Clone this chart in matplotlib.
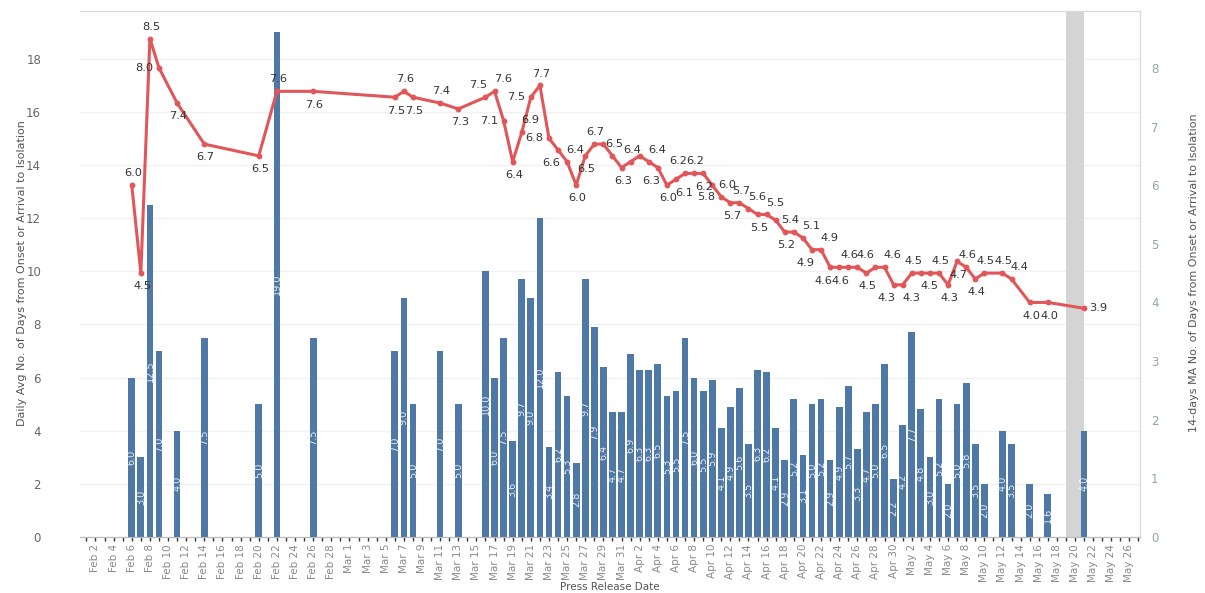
import matplotlib
matplotlib.use("Agg")
import matplotlib.pyplot as plt
import matplotlib.dates as mdates
from matplotlib.ticker import FixedLocator, FuncFormatter
import pandas as pd

# Press release dates (2020) that have data
days = ["02-06", "02-07", "02-08", "02-09", "02-11", "02-14", "02-20", "02-22", "02-26",
        "03-06", "03-07", "03-08", "03-11", "03-13",
        "03-16", "03-17", "03-18", "03-19", "03-20", "03-21", "03-22", "03-23",
        "03-24", "03-25", "03-26", "03-27", "03-28", "03-29", "03-30", "03-31",
        "04-01", "04-02", "04-03", "04-04", "04-05", "04-06", "04-07", "04-08",
        "04-09", "04-10", "04-11", "04-12", "04-13", "04-14", "04-15", "04-16",
        "04-17", "04-18", "04-19", "04-20", "04-21", "04-22", "04-23", "04-24",
        "04-25", "04-26", "04-27", "04-28", "04-29", "04-30",
        "05-01", "05-02", "05-03", "05-04", "05-05", "05-06", "05-07", "05-08",
        "05-09", "05-10", "05-12", "05-13", "05-15", "05-17", "05-21"]

# Daily average no. of days from onset/arrival to isolation (bars)
daily_avg = [6.0, 3.0, 12.5, 7.0, 4.0, 7.5, 5.0, 19.0, 7.5,
             7.0, 9.0, 5.0, 7.0, 5.0,
             10.0, 6.0, 7.5, 3.6, 9.7, 9.0, 12.0, 3.4,
             6.2, 5.3, 2.8, 9.7, 7.9, 6.4, 4.7, 4.7,
             6.9, 6.3, 6.3, 6.5, 5.3, 5.5, 7.5, 6.0,
             5.5, 5.9, 4.1, 4.9, 5.6, 3.5, 6.3, 6.2,
             4.1, 2.9, 5.2, 3.1, 5.0, 5.2, 2.9, 4.9,
             5.7, 3.3, 4.7, 5.0, 6.5, 2.2,
             4.2, 7.7, 4.8, 3.0, 5.2, 2.0, 5.0, 5.8,
             3.5, 2.0, 4.0, 3.5, 2.0, 1.6, 4.0]

# 14-days moving average (line)
ma14 = [6.0, 4.5, 8.5, 8.0, 7.4, 6.7, 6.5, 7.6, 7.6,
        7.5, 7.6, 7.5, 7.4, 7.3,
        7.5, 7.6, 7.1, 6.4, 6.9, 7.5, 7.7, 6.8,
        6.6, 6.4, 6.0, 6.5, 6.7, 6.7, 6.5, 6.3,
        6.4, 6.5, 6.4, 6.3, 6.0, 6.1, 6.2, 6.2,
        6.2, 6.0, 5.8, 5.7, 5.7, 5.6, 5.5, 5.5,
        5.4, 5.2, 5.2, 5.1, 4.9, 4.9, 4.6, 4.6,
        4.6, 4.6, 4.5, 4.6, 4.6, 4.3,
        4.3, 4.5, 4.5, 4.5, 4.5, 4.3, 4.7, 4.6,
        4.4, 4.5, 4.5, 4.4, 4.0, 4.0, 3.9]

# where each line label sits (a/b = above/below, l/r = left/right, '' = hidden)
label_pos = ["a", "b", "a", "l", "b", "b", "b", "a", "b",
             "b", "a", "b", "a", "b",
             "al", "ar", "l", "b", "ar", "l", "a", "l",
             "bl", "ar", "b", "b", "a", "", "a", "b",
             "a", "", "ar", "bl", "b", "br", "al", "a",
             "b", "r", "l", "b", "a", "ar", "b", "ar",
             "r", "b", "", "ar", "bl", "ar", "bl", "b",
             "a", "ar", "b", "", "ar", "bl",
             "br", "a", "br", "", "a", "b", "b", "a",
             "b", "a", "a", "ar", "b", "b", "r"]

dates = pd.to_datetime(["2020-" + d for d in days])

BLUE = "#4e79a7"
RED = "#e15759"

fig = plt.figure(figsize=(12.05, 5.93), dpi=100)
ax = fig.add_axes([80 / 1205, 56 / 593, 1060 / 1205, 526 / 593])
ax2 = ax.twinx()

# highlighted band
ax.axvspan(pd.Timestamp("2020-05-19"), pd.Timestamp("2020-05-21"), color="#d4d4d4", lw=0, zorder=1)

ax.bar(dates, daily_avg, width=0.74, color=BLUE, zorder=3)
for d, v in zip(dates, daily_avg):
    ax.text(d, v / 2, f"{v:.1f}", rotation=90, ha="center", va="center",
            color="white", alpha=0.85, fontsize=7, zorder=4)

ax2.plot(dates, ma14, color=RED, lw=2.2, marker="o", ms=3.2, zorder=5)
offsets = {"a": ((1, 5), "center", "bottom"),
           "b": ((1, -6), "center", "top"),
           "al": ((-5, 5), "center", "bottom"),
           "ar": ((6, 5), "center", "bottom"),
           "bl": ((-5, -6), "center", "top"),
           "br": ((6, -6), "center", "top"),
           "l": ((-4, 0), "right", "center"),
           "r": ((4, 0), "left", "center")}
for d, v, p in zip(dates, ma14, label_pos):
    if not p:
        continue
    off, ha, va = offsets[p]
    ax2.annotate(f"{v:.1f}", (d, v), xytext=off, textcoords="offset points",
                 ha=ha, va=va, fontsize=8.2, color="#333333", zorder=6)

# axes ranges
ax.set_xlim(pd.Timestamp("2020-01-31 07:00"), pd.Timestamp("2020-05-27 04:00"))
ax.set_ylim(0, 19.8)
ax2.set_ylim(0, 8.97)

ax.set_yticks(range(0, 19, 2))
ax2.set_yticks(range(0, 9))
ax.yaxis.grid(True, color="#f0f0f0", lw=1)
ax.set_axisbelow(True)

major = pd.date_range("2020-02-02", "2020-05-26", freq="2D")
minor = pd.date_range("2020-02-01", "2020-05-27", freq="D")
ax.xaxis.set_major_locator(FixedLocator(mdates.date2num(major)))
ax.xaxis.set_minor_locator(FixedLocator(mdates.date2num(minor)))
ax.xaxis.set_major_formatter(FuncFormatter(
    lambda x, pos: f"{mdates.num2date(x):%b} {mdates.num2date(x).day}"))
ax.tick_params(axis="x", which="both", length=3, color="#333333", width=1)
ax.tick_params(axis="x", which="major", labelrotation=90, labelsize=7.5, labelcolor="#8a8a8a", pad=2)

ax.tick_params(axis="y", length=0, labelsize=8.5, labelcolor="#666666", pad=28)
ax2.tick_params(axis="y", length=0, labelsize=8.5, labelcolor="#95a5a6", pad=8)

for a in (ax, ax2):
    a.spines["left"].set_visible(False)
    a.spines["top"].set_color("#d9d9d9")
    a.spines["right"].set_color("#d9d9d9")
    a.spines["bottom"].set_color("#bbbbbb")

# axis titles placed in figure pixels
fig.text(610 / 1205, 1 - 587 / 593, "Press Release Date", fontsize=7.5, color="#555555",
         ha="center", va="center")
fig.text(22 / 1205, 1 - 273 / 593, "Daily Avg No. of Days from Onset or Arrival to Isolation",
         fontsize=8, color="#555555", rotation=90, ha="center", va="center")
fig.text(1194 / 1205, 1 - 273 / 593, "14-days MA No. of Days from Onset or Arrival to Isolation",
         fontsize=8, color="#555555", rotation=90, ha="center", va="center")

fig.savefig("out.png", dpi=100)
